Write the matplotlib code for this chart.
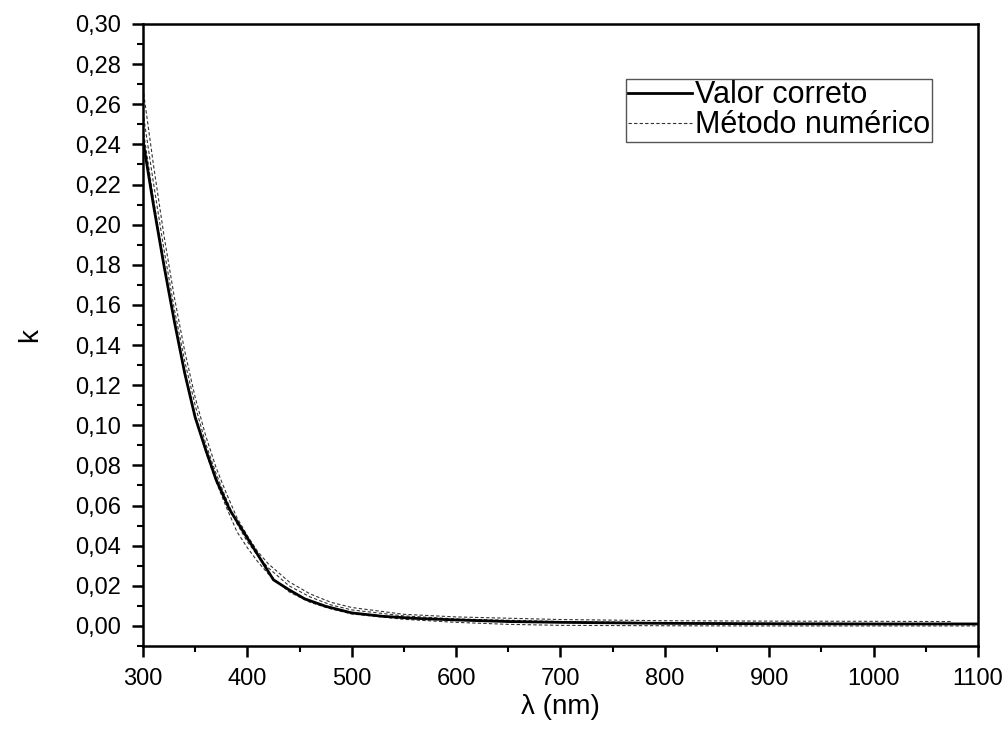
import numpy as np
import matplotlib
matplotlib.use("Agg")
import matplotlib.pyplot as plt
from matplotlib.ticker import MultipleLocator, FuncFormatter

plt.rcParams['font.family'] = ['Liberation Sans', 'DejaVu Sans']

# Valor correto
lam_ok = [300, 310, 320, 330, 340, 350, 360, 370, 383, 425, 440, 455, 475, 500,
          530, 560, 600, 650, 700, 800, 900, 1000, 1100]
k_ok = [0.242, 0.21, 0.18, 0.152, 0.126, 0.104, 0.088, 0.073, 0.058, 0.023,
        0.018, 0.0135, 0.0098, 0.0065, 0.0048, 0.0038, 0.003, 0.0022, 0.0018,
        0.0013, 0.0011, 0.0010, 0.0010]

# Método numérico (três curvas)
lam_n1 = [300, 310, 320, 330, 340, 350, 360, 370, 380, 390, 400, 410, 420, 440,
          460, 480, 500, 550, 600, 700, 800, 900, 1000, 1075]
k_n1 = [0.268, 0.230, 0.195, 0.164, 0.137, 0.114, 0.095, 0.079, 0.066, 0.054,
        0.045, 0.037, 0.031, 0.022, 0.016, 0.0118, 0.0092, 0.0058, 0.0045,
        0.0032, 0.0026, 0.0024, 0.0023, 0.0022]

lam_n2 = [300, 310, 320, 330, 340, 350, 360, 370, 380, 390, 400, 410, 420, 440,
          460, 480, 500, 550, 600, 700, 800, 900, 1000, 1100]
k_n2 = [0.256, 0.221, 0.188, 0.158, 0.132, 0.110, 0.091, 0.076, 0.063, 0.051,
        0.042, 0.035, 0.029, 0.020, 0.0145, 0.0105, 0.008, 0.005, 0.0035,
        0.0022, 0.0016, 0.0013, 0.0012, 0.0011]

lam_n3 = [300, 310, 320, 330, 340, 350, 360, 370, 380, 390, 400, 410, 420, 440,
          460, 480, 500, 550, 600, 650, 700, 800, 900, 1000, 1100]
k_n3 = [0.248, 0.213, 0.181, 0.152, 0.127, 0.105, 0.087, 0.072, 0.059, 0.047,
        0.039, 0.032, 0.026, 0.017, 0.0118, 0.0085, 0.006, 0.0033, 0.0018,
        0.0008, 0.0003, 0.0001, 0.0, 0.0, 0.0]

fig = plt.figure(figsize=(10.06, 7.40), dpi=100)
ax = fig.add_axes([0.1421, 0.127, 0.8301, 0.8406])

dash = (0, (3, 2))
ax.plot(lam_n1, k_n1, color='#333333', lw=0.8, linestyle=dash, label='Método numérico')
ax.plot(lam_n2, k_n2, color='#333333', lw=0.8, linestyle=dash)
ax.plot(lam_n3, k_n3, color='#333333', lw=0.8, linestyle=dash)
ax.plot(lam_ok, k_ok, color='black', lw=2.0, label='Valor correto')

ax.set_xlim(300, 1100)
ax.set_ylim(-0.01, 0.30)
ax.xaxis.set_major_locator(MultipleLocator(100))
ax.xaxis.set_minor_locator(MultipleLocator(50))
ax.yaxis.set_major_locator(MultipleLocator(0.02))
ax.yaxis.set_minor_locator(MultipleLocator(0.01))
ax.yaxis.set_major_formatter(FuncFormatter(lambda v, p: f"{v:.2f}".replace('.', ',')))

for s in ax.spines.values():
    s.set_linewidth(1.8)
ax.tick_params(which='major', direction='out', length=8, width=1.8, labelsize=17)
ax.tick_params(axis='y', which='major', pad=8)
ax.tick_params(axis='x', which='major', pad=8)
ax.tick_params(which='minor', direction='out', length=4, width=1.5)

ax.set_xlabel('λ (nm)', fontsize=20)
ax.set_ylabel('k', fontsize=20)
ax.xaxis.set_label_coords(0.5, -0.077)
ax.yaxis.set_label_coords(-0.12, 0.5)

h, l = ax.get_legend_handles_labels()
leg = ax.legend([h[1], h[0]], [l[1], l[0]], loc='upper right',
                bbox_to_anchor=(0.945, 0.912), fontsize=22, fancybox=False,
                framealpha=1, edgecolor='#555555', handlelength=2.1,
                handletextpad=0.12, borderpad=0.05, labelspacing=0.0,
                borderaxespad=0)
leg.get_frame().set_linewidth(1.0)

fig.savefig('out.png', dpi=100)
